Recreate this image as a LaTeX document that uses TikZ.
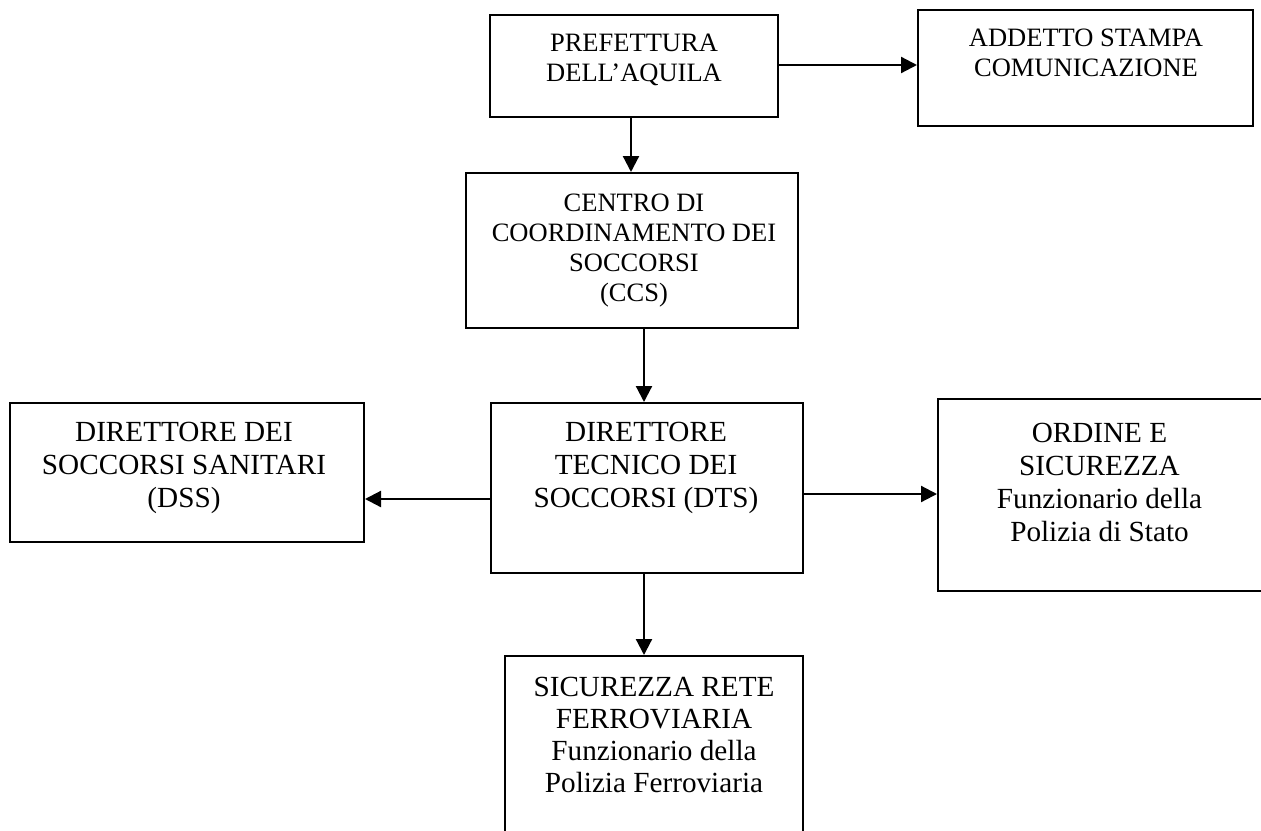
\documentclass[tikz,border=0pt]{standalone}
\usepackage{fontspec}
\setmainfont{Liberation Serif}
\usetikzlibrary{arrows.meta}
\begin{document}
\begin{tikzpicture}[x=1pt,y=-1pt,
  boxframe/.style={draw, line width=2pt, inner sep=0pt},
  smalltxt/.style={align=center, anchor=north, inner sep=0pt, font=\fontsize{26.5}{30}\selectfont},
  bigtxt/.style={align=center, anchor=north, inner sep=0pt, font=\fontsize{29.2}{33}\selectfont},
  conn/.style={line width=2.2pt, -{Triangle[length=16pt,width=16pt]}}]
\useasboundingbox (0,0) rectangle (1261,830);

% boxes
\node[boxframe, minimum width=288pt, minimum height=102pt] (pref) at (634,66) {};
\node[boxframe, minimum width=335pt, minimum height=116pt] (add) at (1085.5,68) {};
\node[boxframe, minimum width=332pt, minimum height=155pt] (ccs) at (632,250.5) {};
\node[boxframe, minimum width=312pt, minimum height=170pt] (dts) at (647,488) {};
\node[boxframe, minimum width=354pt, minimum height=139pt] (dss) at (187,472.5) {};
\node[boxframe, minimum width=326pt, minimum height=192pt] (ord) at (1101,495) {};
\node[boxframe, minimum width=298pt, minimum height=189pt] (sic) at (654,750.5) {};

% texts
\node[smalltxt] (preft) at (634,33.5) {PREFETTURA\\DELL’AQUILA};
\node[smalltxt] (addt) at (1086,28.3) {ADDETTO STAMPA\\COMUNICAZIONE};
\node[smalltxt] (ccst) at (634,193.3) {CENTRO DI\\COORDINAMENTO DEI\\SOCCORSI\\(CCS)};
\node[bigtxt] (dtst) at (646,421.7) {DIRETTORE\\TECNICO DEI\\SOCCORSI (DTS)};
\node[bigtxt] (dsst) at (184,421.7) {DIRETTORE DEI\\SOCCORSI SANITARI\\(DSS)};
\node[bigtxt] (ordt) at (1099.5,423.3) {ORDINE E\\SICUREZZA\\Funzionario della\\Polizia di Stato};
\node[bigtxt, font=\fontsize{29.2}{32}\selectfont] (sict) at (654,676.7) {SICUREZZA RETE\\FERROVIARIA\\Funzionario della\\Polizia Ferroviaria};

% helper coordinates
\coordinate (xa) at (631,0);
\coordinate (xb) at (644,0);
\coordinate (ya) at (0,499);
\coordinate (yb) at (0,494);
\coordinate (yc) at (0,65);

% connectors
\draw[conn] (pref.east |- yc) -- (add.west |- yc);
\draw[conn] (pref.south -| xa) -- (ccs.north -| xa);
\draw[conn] (ccs.south -| xb) -- (dts.north -| xb);
\draw[conn] (dts.west |- ya) -- (dss.east |- ya);
\draw[conn] (dts.east |- yb) -- (ord.west |- yb);
\draw[conn] (dts.south -| xb) -- (sic.north -| xb);
\end{tikzpicture}
\end{document}
